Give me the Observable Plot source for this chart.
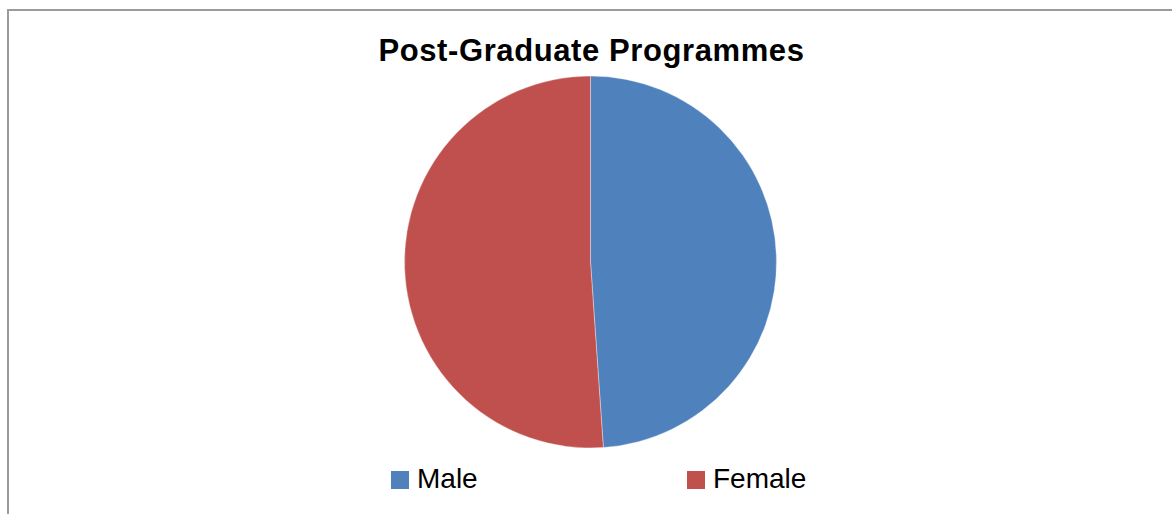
<!DOCTYPE html>
<html>
<head>
<meta charset="utf-8">
<script src="https://cdn.jsdelivr.net/npm/d3@7"></script>
<script src="https://cdn.jsdelivr.net/npm/@observablehq/plot@0.6"></script>
<style>
  html, body { margin: 0; padding: 0; background: #fff; }
  #wrap { position: relative; width: 1172px; height: 514px; overflow: hidden; background: #fff; font-family: "Liberation Sans", Arial, sans-serif; }
  #frame { position: absolute; left: 7px; top: 9px; width: 1300px; height: 600px; border-left: 2px solid #9b9b9b; border-top: 2px solid #9b9b9b; box-sizing: border-box; }
  #title { position: absolute; left: 0; width: 1183px; top: 35px; text-align: center; font-weight: bold; font-size: 31px; letter-spacing: 0.6px; color: #000; line-height: 1; white-space: nowrap; }
  #chart { position: absolute; left: 0; top: 0; }
  .lg { position: absolute; top: 465px; display: flex; align-items: center; font-size: 28px; color: #000; line-height: 1; }
  .sw { width: 18px; height: 18px; margin-right: 8px; margin-top: 2px; }
</style>
</head>
<body>
<div id="wrap">
  <div id="frame"></div>
  <div id="chart"></div>
  <div id="title"></div>
  <div id="legend"></div>
</div>
<script>
const titleText = "Post-Graduate Programmes";
const categories = ["Male", "Female"];
const values = [48.9, 51.1];
const colors = ["#4F81BD", "#C0504D"];

const data = categories.map((c, i) => ({category: c, value: values[i]}));

const W = 1172, H = 514;
const cx = 590.5, cy = 262, R = 186;

function pieMark(index, scales, channels, dims) {
  const arcs = d3.pie().sort(null).value(d => d.value)(data);
  const arc = d3.arc().innerRadius(0).outerRadius(R);
  const g = d3.create("svg:g").attr("transform", `translate(${cx},${cy})`);
  g.selectAll("path").data(arcs).join("path")
    .attr("d", arc)
    .attr("fill", d => scales.color(d.data.category))
    .attr("stroke", "#ffffff")
    .attr("stroke-width", 0.6)
    .attr("stroke-opacity", 0.6);
  return g.node();
}

const plot = Plot.plot({
  width: W,
  height: H,
  margin: 0,
  x: {domain: [0, W], axis: null},
  y: {domain: [0, H], axis: null, reverse: true},
  color: {domain: categories, range: colors},
  marks: [
    Plot.dot(data, {x: () => -10, y: () => -10, fill: "category", r: 0}),
    pieMark
  ]
});
plot.style.background = "transparent";
document.getElementById("chart").appendChild(plot);

document.getElementById("title").textContent = titleText;

const colorScale = plot.scale("color");
const legendX = [391, 687];
const legend = document.getElementById("legend");
categories.forEach((c, i) => {
  const item = document.createElement("div");
  item.className = "lg";
  item.style.left = legendX[i] + "px";
  const sw = document.createElement("div");
  sw.className = "sw";
  sw.style.background = colorScale.apply(c);
  const t = document.createElement("span");
  t.textContent = c;
  item.appendChild(sw);
  item.appendChild(t);
  legend.appendChild(item);
});
</script>
</body>
</html>
